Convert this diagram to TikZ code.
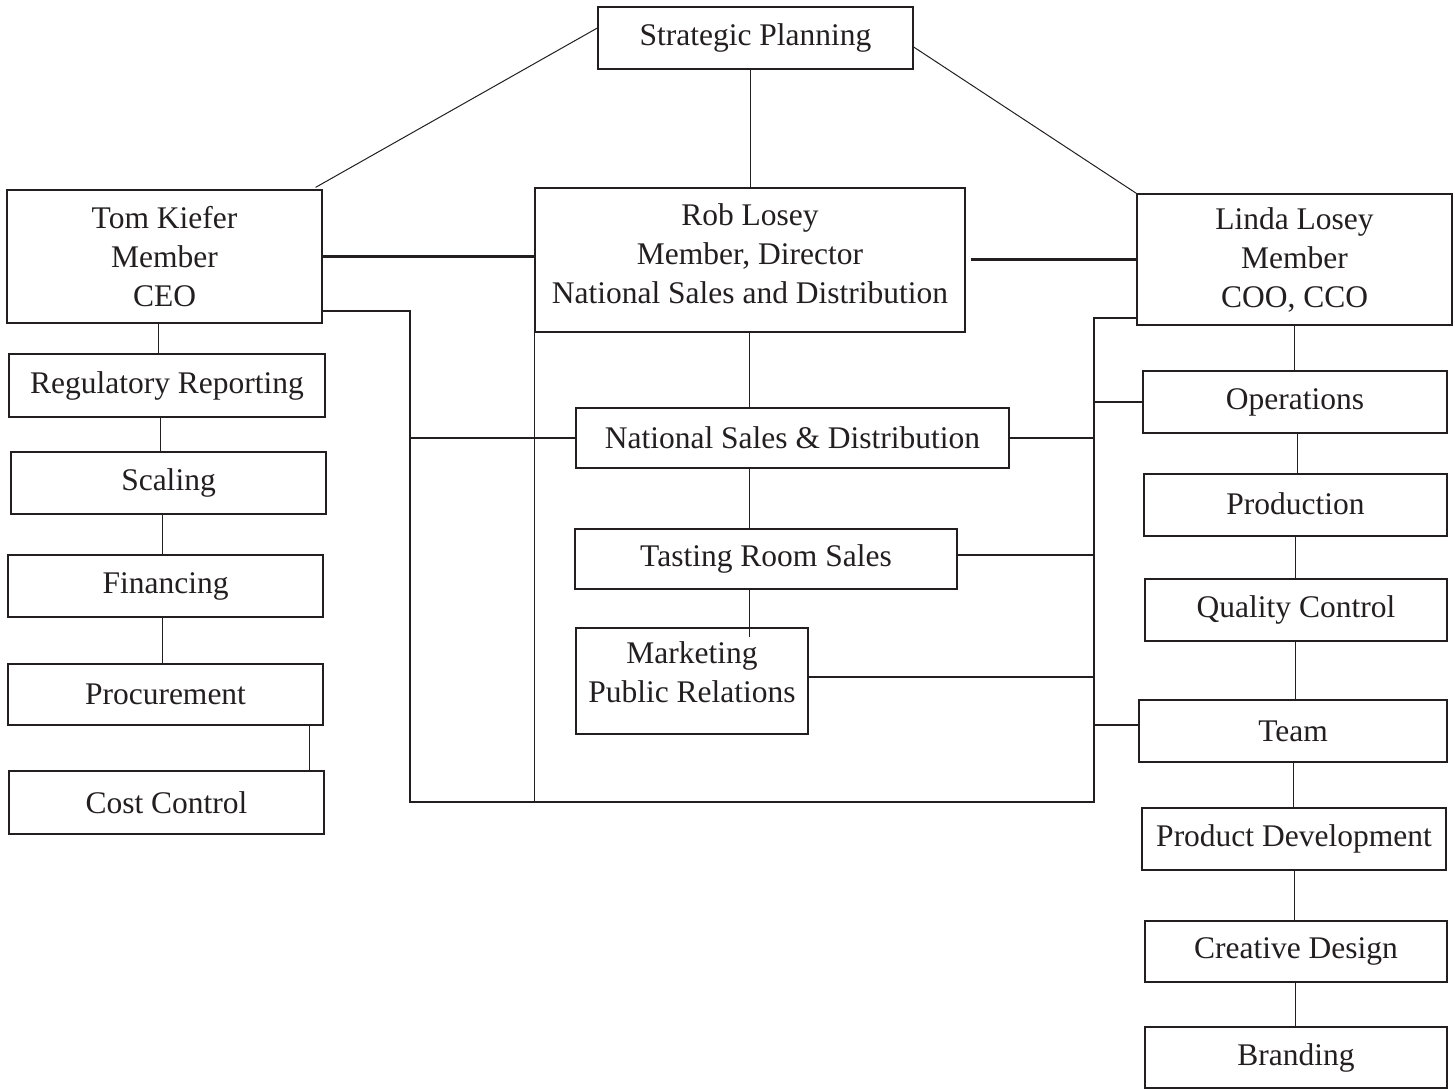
\documentclass[tikz,border=0pt]{standalone}
\usepackage{fontspec}
\setmainfont{Liberation Serif}
\usetikzlibrary{calc}
\definecolor{ink}{RGB}{35,31,32}
\tikzset{
  box/.style={draw=ink, line width=1.3pt, align=center, inner sep=0pt, text=ink,
    font=\fontsize{31.5}{39}\selectfont},
  boxtext/.style={box, draw=none},
  thin/.style={draw=ink, line width=1pt},
  thick/.style={draw=ink, line width=2.8pt},
}
\newcommand\bx[6]{\node[box, minimum width={#4pt-#2pt}, minimum height={#5pt-#3pt}] (#1) at ({(#2+#4)/2},{(#3+#5)/2}) {#6};}
\begin{document}
\begin{tikzpicture}[x=1pt,y=-1pt]
\useasboundingbox[fill=white] (0,0) rectangle (1455,1089);
% boxes
\bx{sp}{598}{7}{913}{69}{\raisebox{-3pt}{Strategic Planning}}
\bx{tom}{7}{190}{322}{323}{Tom Kiefer\\Member\\CEO}
\node[box, minimum width=430pt, minimum height=144pt,
  label={[boxtext,yshift=6pt]center:Rob Losey\\Member, Director\\National Sales and Distribution}] (rob) at (750,260) {};
\bx{lin}{1137}{194}{1452}{325}{Linda Losey\\Member\\COO, CCO}
\bx{rr}{9}{354}{325}{417}{Regulatory Reporting}
\bx{sc}{11}{452}{326}{514}{\raisebox{-3pt}{Scaling}}
\bx{fin}{8}{555}{323}{617}{\raisebox{-3pt}{Financing}}
\bx{proc}{8}{664}{323}{725}{Procurement}
\bx{cc}{9}{771}{324}{834}{Cost Control}
\bx{nsd}{576}{408}{1009}{468}{National Sales \& Distribution}
\bx{trs}{575}{529}{957}{589}{\raisebox{-3pt}{Tasting Room Sales}}
\node[box, minimum width=232pt, minimum height=106pt,
  label={[boxtext,yshift=9pt]center:Marketing\\Public Relations}] (mkt) at (692,681) {};
\bx{ops}{1143}{371}{1447}{433}{Operations}
\bx{prod}{1144}{474}{1447}{536}{\raisebox{3pt}{Production}}
\bx{qc}{1145}{579}{1447}{641}{Quality Control}
\bx{team}{1139}{700}{1447}{762}{Team}
\bx{pd}{1142}{808}{1446}{870}{Product Development}
\bx{cd}{1145}{921}{1447}{982}{\raisebox{-2pt}{Creative Design}}
\bx{br}{1145}{1027}{1447}{1088}{Branding}
% bus coordinates
\coordinate (busL) at (410,802);
\coordinate (busR) at (1094,802);
% strategic planning links
\draw[thin] ([yshift=10pt]sp.west) -- ([xshift=-7pt,yshift=2pt]tom.north east);
\draw[thin] (sp.south -| rob.north) -- (rob.north);
\draw[thin] ([yshift=-9pt]sp.east) -- (lin.north west);
% member links
\draw[thick] (tom.east) -- (tom.east -| rob.west);
\draw[thick] ([xshift=5pt]lin.west -| rob.east) -- (lin.west);
\draw[thick] ([yshift=-54.5pt]tom.east) -| (busL) -- (busR) |- ([yshift=-58.5pt]lin.west);
\draw[thick] (busL |- nsd.west) -- (nsd.west);
\draw[thick] (nsd.east) -- (nsd.east -| busR);
\draw[thick] ([yshift=4pt]trs.east) -- ([yshift=4pt]trs.east -| busR);
\draw[thick] ([yshift=4pt]mkt.east) -- ([yshift=4pt]mkt.east -| busR);
\draw[thick] (busR |- ops.west) -- (ops.west);
\draw[thick] ([yshift=6pt]busR |- team.west) -- ([yshift=6pt]team.west);
% centre column
\draw[thin] (rob.south west) -- (rob.south west |- busL);
\draw[thin] ([xshift=-1pt]rob.south) -- ([xshift=-1pt]rob.south |- nsd.north);
\draw[thin] ([xshift=-1pt]rob.south |- nsd.south) -- ([xshift=-1pt]rob.south |- trs.north);
\draw[thin] ([xshift=-1pt]rob.south |- trs.south) -- ([xshift=-1pt,yshift=-10pt]rob.south |- mkt.north);
% left column
\draw[thin] ([xshift=-6.5pt]tom.south) -- ([xshift=-6.5pt]tom.south |- rr.north);
\draw[thin] ([xshift=-7pt]rr.south) -- ([xshift=-7pt]rr.south |- sc.north);
\draw[thin] ([xshift=-6.5pt]sc.south) -- ([xshift=-6.5pt]sc.south |- fin.north);
\draw[thin] ([xshift=-3.5pt]fin.south) -- ([xshift=-3.5pt]fin.south |- proc.north);
\draw[thin] ([xshift=-14pt,yshift=1pt]proc.south east) -- ([xshift=-14pt]proc.south east |- cc.north);
% right column
\draw[thin] (lin.south) -- (lin.south |- ops.north);
\draw[thin] ([xshift=2pt]ops.south) -- ([xshift=2pt]ops.south |- prod.north);
\draw[thin] ([xshift=-0.5pt]prod.south) -- ([xshift=-0.5pt]prod.south |- qc.north);
\draw[thin] ([xshift=-1pt]qc.south) -- ([xshift=-1pt]qc.south |- team.north);
\draw[thin] (team.south) -- (team.south |- pd.north);
\draw[thin] (pd.south) -- (pd.south |- cd.north);
\draw[thin] ([xshift=-1pt]cd.south) -- ([xshift=-1pt]cd.south |- br.north);
\end{tikzpicture}
\end{document}
